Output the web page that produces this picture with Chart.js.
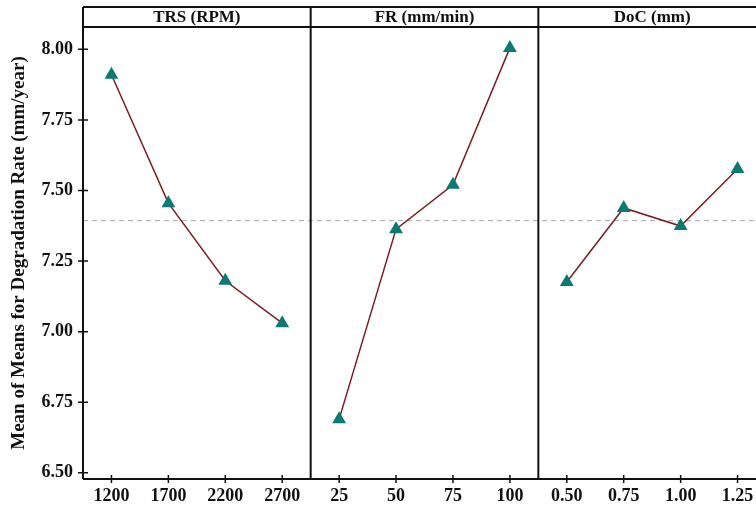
<!DOCTYPE html>
<html lang="en">
<head>
  <meta charset="UTF-8" />
  <title>Main Effects Plot for Means</title>
  <script src="https://cdn.jsdelivr.net/npm/chart.js"></script>
  <style>
    html, body { margin: 0; padding: 0; background: #fff; overflow: hidden; }
    #wrap { width: 780px; height: 509px; }
  </style>
</head>
<body>
  <div id="wrap"><canvas id="effects" width="780" height="509"></canvas></div>

  <script>
    // factor levels and the mean response at each level
    const factorNames = ['TRS (RPM)', 'FR (mm/min)', 'DoC (mm)'];
    const trsLevels = ['1200', '1700', '2200', '2700'];
    const frLevels = ['25', '50', '75', '100'];
    const docLevels = ['0.50', '0.75', '1.00', '1.25'];
    const trsMeans = [7.91, 7.455, 7.18, 7.03];
    const frMeans = [6.69, 7.363, 7.52, 8.005];
    const docMeans = [7.176, 7.438, 7.374, 7.576];
    const yTicks = [6.50, 6.75, 7.00, 7.25, 7.50, 7.75, 8.00];

    const levels = [trsLevels, frLevels, docLevels];
    const means = [trsMeans, frMeans, docMeans];
    const allLevels = levels.flat();
    const allMeans = means.flat();
    const grandMean = allMeans.reduce((a, b) => a + b, 0) / allMeans.length;
    const nPanels = levels.length;
    const perPanel = trsLevels.length;

    const SERIF = '"Liberation Serif", "Times New Roman", serif';

    const panelSets = means.map((vals, p) => ({
      label: factorNames[p],
      data: vals.map((v, i) => ({ x: p * perPanel + i + 0.5, y: v })),
      borderColor: '#7a1e22',
      borderWidth: 1.5,
      pointStyle: 'triangle',
      pointRadius: 8,
      pointBackgroundColor: '#0b7a72',
      pointBorderColor: '#0b7a72',
      pointBorderWidth: 0,
      tension: 0,
      order: 1
    }));

    const meanLine = {
      label: 'mean',
      data: [{ x: 0, y: grandMean }, { x: nPanels * perPanel, y: grandMean }],
      borderColor: '#a8a8a8',
      borderWidth: 1,
      borderDash: [5, 4],
      pointRadius: 0,
      order: 10
    };

    // frame, panel dividers, header strip and crossing tick marks
    const panelFrame = {
      id: 'panelFrame',
      afterDraw(chart) {
        const { ctx, chartArea: a, scales: { x, y } } = chart;
        const top = a.top - 20;
        ctx.save();
        ctx.strokeStyle = '#111';
        ctx.lineWidth = 2;
        ctx.beginPath();
        ctx.moveTo(a.left, a.bottom); ctx.lineTo(a.left, top);
        ctx.moveTo(a.left, top); ctx.lineTo(a.right, top);
        ctx.moveTo(a.left, a.top); ctx.lineTo(a.right, a.top);
        ctx.moveTo(a.left, a.bottom); ctx.lineTo(a.right, a.bottom);
        ctx.moveTo(a.right, top); ctx.lineTo(a.right, a.bottom);
        for (let p = 1; p < nPanels; p++) {
          const px = x.getPixelForValue(p * perPanel);
          ctx.moveTo(px, top); ctx.lineTo(px, a.bottom);
        }
        ctx.stroke();

        ctx.lineWidth = 1.5;
        ctx.beginPath();
        yTicks.forEach(v => {
          const py = y.getPixelForValue(v);
          ctx.moveTo(a.left - 5, py); ctx.lineTo(a.left + 5, py);
        });
        allLevels.forEach((_, i) => {
          const px = x.getPixelForValue(i + 0.5);
          ctx.moveTo(px, a.bottom - 4); ctx.lineTo(px, a.bottom + 4);
        });
        ctx.stroke();

        ctx.fillStyle = '#111';
        ctx.font = 'bold 17px ' + SERIF;
        ctx.textAlign = 'center';
        ctx.textBaseline = 'middle';
        factorNames.forEach((name, p) => {
          const cx = x.getPixelForValue(p * perPanel + perPanel / 2);
          ctx.fillText(name, cx, (top + a.top) / 2 + 1);
        });
        ctx.restore();
      }
    };

    new Chart(document.getElementById('effects'), {
      type: 'line',
      data: { datasets: [...panelSets, meanLine] },
      options: {
        responsive: false,
        animation: false,
        layout: { padding: { top: 27, right: 14, left: 0, bottom: 0 } },
        plugins: { legend: { display: false }, tooltip: { enabled: false } },
        scales: {
          x: {
            type: 'linear',
            min: 0,
            max: nPanels * perPanel,
            grid: { display: false, drawTicks: false },
            border: { display: false },
            afterBuildTicks: s => { s.ticks = allLevels.map((_, i) => ({ value: i + 0.5 })); },
            afterFit: s => { s.height = 30; },
            ticks: {
              autoSkip: false,
              maxRotation: 0,
              padding: 7,
              color: '#111',
              font: { family: SERIF, size: 18, weight: 'bold' },
              callback: (v) => allLevels[Math.round(v - 0.5)]
            }
          },
          y: {
            min: 6.478,
            max: 8.079,
            grid: { display: false, drawTicks: false },
            border: { display: false },
            afterBuildTicks: s => { s.ticks = yTicks.map(v => ({ value: v })); },
            afterFit: s => { s.width = 83; },
            ticks: {
              padding: 10,
              color: '#111',
              font: { family: SERIF, size: 18, weight: 'bold' },
              callback: v => Number(v).toFixed(2)
            },
            title: {
              display: true,
              text: 'Mean of Means for Degradation Rate (mm/year)',
              color: '#111',
              font: { family: SERIF, size: 19, weight: 'bold' },
              padding: { top: 8, bottom: 0 }
            }
          }
        }
      },
      plugins: [panelFrame]
    });
  </script>
</body>
</html>
